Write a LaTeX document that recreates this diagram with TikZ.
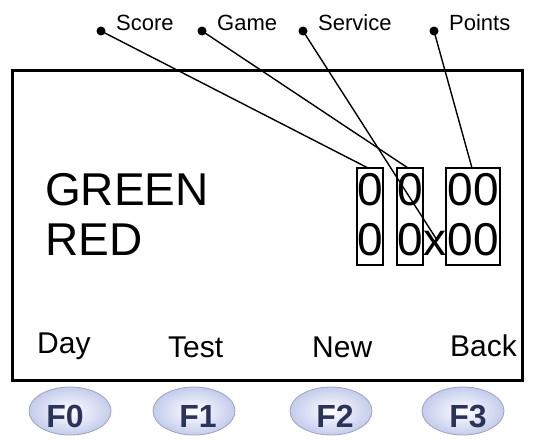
\documentclass[tikz,border=0pt]{standalone}
\usepackage{fontspec}
\setmainfont{Liberation Sans}
\usetikzlibrary{shapes.geometric}
\definecolor{btnedge}{HTML}{9CA3C2}
\definecolor{btnout}{HTML}{C4CCEC}
\definecolor{btnin}{HTML}{FFFFFF}
\definecolor{btntext}{HTML}{2B3458}
\tikzset{
  lbl/.style={inner sep=0pt, anchor=base west, font=\fontsize{22}{24}\selectfont},
  big/.style={inner sep=0pt, anchor=base west, font=\fontsize{46}{50}\selectfont},
  digit/.style={inner sep=0pt, anchor=base, font=\fontsize{46}{50}\selectfont},
  soft/.style={inner sep=0pt, anchor=base west, font=\fontsize{30}{32}\selectfont},
  digbox/.style={draw, line width=1.5pt, inner sep=0pt},
  leader/.style={line width=1.4pt},
  dot/.style={circle, fill=black, inner sep=0pt, minimum size=9pt},
  btn/.style={ellipse, draw=btnedge, line width=0.8pt, inner color=btnin, outer color=btnout,
     minimum width=82pt, minimum height=48pt},
  btnlbl/.style={inner sep=0pt, anchor=base, text=btntext, font=\fontsize{32}{34}\selectfont\bfseries},
}
\begin{document}
\begin{tikzpicture}[x=1pt,y=-1pt]
\useasboundingbox (0,0) rectangle (537,439);
% frame
\node[draw, line width=3pt, inner sep=0pt, minimum width=510pt, minimum height=310pt] (frame) at (267,225) {};
% top labels
\node[dot] (dscore) at (101,31) {};
\node[dot] (dgame) at (202,31) {};
\node[dot] (dserv) at (303,31) {};
\node[dot] (dpts) at (434,31) {};
\node[lbl] (tscore) at (116,30) {Score};
\node[lbl] (tgame) at (217,30) {Game};
\node[lbl] (tserv) at (318,30) {Service};
\node[lbl] (tpts) at (449,30) {Points};
% main text
\node[big] (green) at (45,205) {GREEN};
\node[big] (red) at (45,255) {RED};
\node[digit] (g1) at (370,205) {0};
\node[digit] (g2) at (410,205) {0};
\node[digit] (g3) at (473,205) {00};
\node[digit] (r1) at (370,255) {0};
\node[digit] (r2) at (410,255) {0};
\node[digit] (rx) at (435,255) {x};
\node[digit] (r3) at (473,255) {00};
% boxes
\node[digbox, minimum width=26pt, minimum height=97pt] (b1) at (370,216.5) {};
\node[digbox, minimum width=26pt, minimum height=97pt] (b2) at (410,216.5) {};
\node[digbox, minimum width=54pt, minimum height=97pt] (b3) at (473,216.5) {};
\coordinate (escore) at (368,168);
\coordinate (egame) at (408,168);
\coordinate (eserv) at (437,240);
\coordinate (epts) at (472,168);
\draw[leader] (dscore.center) -- (escore);
\draw[leader] (dgame.center) -- (egame);
\draw[leader] (dserv.center) -- (eserv);
\draw[leader] (dpts.center) -- (epts);
% soft key labels
\node[soft] (day) at (37,353) {Day};
\node[soft] (test) at (168,357) {Test};
\node[soft] (new) at (312,357) {New};
\node[soft] (back) at (450,356) {Back};
% buttons
\node[btn] (f0) at (70,411) {};
\node[btn] (f1) at (194,411) {};
\node[btn] (f2) at (331,411) {};
\node[btn] (f3) at (463,411) {};
\node[btnlbl] (f0t) at (65,427) {F0};
\node[btnlbl] (f1t) at (198,427) {F1};
\node[btnlbl] (f2t) at (335,427) {F2};
\node[btnlbl] (f3t) at (468,427) {F3};
\end{tikzpicture}
\end{document}
